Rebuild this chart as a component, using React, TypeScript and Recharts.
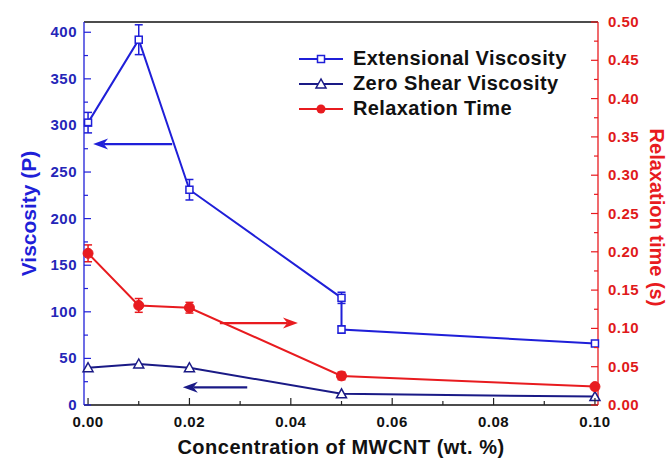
import { ComposedChart, Line, XAxis, YAxis, ErrorBar, ReferenceLine, Legend } from 'recharts';

// extensional viscosity has two readings at 0.05 wt.%
const extConc = [0, 0.01, 0.02, 0.05, 0.05, 0.1];
const extViscosity = [303, 392, 231, 115, 81, 66];
const extError = [11, 16, 11, 6, 4, 3];

const conc = [0, 0.01, 0.02, 0.05, 0.1];
const zeroShear = [40, 44, 40, 12, 9];
const relaxTime = [0.198, 0.13, 0.127, 0.038, 0.024];
const relaxError = [0.011, 0.009, 0.007, 0.005, 0.003];

const xTicks = [0, 0.01, 0.02, 0.03, 0.04, 0.05, 0.06, 0.07, 0.08, 0.09, 0.1];
const leftTicks = [0, 25, 50, 75, 100, 125, 150, 175, 200, 225, 250, 275, 300, 325, 350, 375, 400];
const rightTicks = [
  0, 0.025, 0.05, 0.075, 0.1, 0.125, 0.15, 0.175, 0.2, 0.225, 0.25, 0.275, 0.3, 0.325, 0.35, 0.375, 0.4,
  0.425, 0.45, 0.475, 0.5,
];

// arrows pointing each curve to its axis
const blueArrow = [{ x: 0.0166, y: 280 }, { x: 0.001, y: 280 }];
const navyArrow = [{ x: 0.0314, y: 19 }, { x: 0.0187, y: 19 }];
const redArrow = [{ x: 0.026, y: 0.107 }, { x: 0.0414, y: 0.107 }];

const BLUE = '#1f1fd8';
const NAVY = '#1a1a86';
const RED = '#e81b1f';
const FONT = '"Liberation Sans", Arial, sans-serif';

const extData = extConc.map((x, i) => ({ x, y: extViscosity[i], err: extError[i] }));
const zeroData = conc.map((x, i) => ({ x, y: zeroShear[i] }));
const relaxData = conc.map((x, i) => ({ x, y: relaxTime[i], err: relaxError[i] }));

const XTick = (props: any) => {
  const { x, y, payload } = props;
  const major = Math.round(payload.value * 100) % 2 === 0;
  return (
    <g>
      <line x1={x} x2={x} y1={y} y2={y - (major ? 7 : 4)} stroke="#222" strokeWidth={1.2} />
      {major && (
        <text x={x} y={y + 22} textAnchor="middle" fontFamily={FONT} fontWeight="bold" fontSize={15} letterSpacing={0.5} fill="#111">
          {payload.value.toFixed(2)}
        </text>
      )}
    </g>
  );
};

const LeftTick = (props: any) => {
  const { x, y, payload } = props;
  const major = payload.value % 50 === 0;
  return (
    <g>
      <line x1={x} x2={x + (major ? 7 : 4)} y1={y} y2={y} stroke={BLUE} strokeWidth={1.2} />
      {major && (
        <text x={x - 7} y={y + 5} textAnchor="end" fontFamily={FONT} fontWeight="bold" fontSize={15} letterSpacing={0.5} fill="#2626b8">
          {payload.value}
        </text>
      )}
    </g>
  );
};

const RightTick = (props: any) => {
  const { x, y, payload } = props;
  const major = Math.round(payload.value * 1000) % 50 === 0;
  return (
    <g>
      <line x1={x} x2={x - (major ? 7 : 4)} y1={y} y2={y} stroke={RED} strokeWidth={1.2} />
      {major && (
        <text x={x + 10} y={y + 5} textAnchor="start" fontFamily={FONT} fontWeight="bold" fontSize={15} letterSpacing={0.5} fill="#e01a1a">
          {payload.value.toFixed(2)}
        </text>
      )}
    </g>
  );
};

const squareDot = (p: any) => (
  <rect key={'s' + p.index} x={p.cx - 3.5} y={p.cy - 3.5} width={7} height={7} fill="#fff" stroke={BLUE} strokeWidth={1.5} />
);

const triangleDot = (p: any) => (
  <polygon
    key={'t' + p.index}
    points={`${p.cx},${p.cy - 5} ${p.cx - 5},${p.cy + 4} ${p.cx + 5},${p.cy + 4}`}
    fill="#fff"
    stroke={NAVY}
    strokeWidth={1.5}
  />
);

const circleDot = (p: any) => <circle key={'c' + p.index} cx={p.cx} cy={p.cy} r={5} fill={RED} stroke={RED} />;

const arrow = (color: string) => (props: any) => {
  const { x1, y1, x2, y2 } = props;
  const a = Math.atan2(y2 - y1, x2 - x1);
  const c = Math.cos(a);
  const s = Math.sin(a);
  const L = 15;
  const W = 5.5;
  const bx = x2 - L * c;
  const by = y2 - L * s;
  const nx = x2 - L * 0.7 * c;
  const ny = y2 - L * 0.7 * s;
  return (
    <g>
      <line x1={x1} y1={y1} x2={nx} y2={ny} stroke={color} strokeWidth={2.2} />
      <polygon
        points={`${x2},${y2} ${bx - W * s},${by + W * c} ${nx},${ny} ${bx + W * s},${by - W * c}`}
        fill={color}
      />
    </g>
  );
};

const legendItems = [
  { name: 'Extensional Viscosity', color: BLUE, marker: 'square' },
  { name: 'Zero Shear Viscosity', color: NAVY, marker: 'triangle' },
  { name: 'Relaxation Time', color: RED, marker: 'circle' },
];

const LegendBox = () => (
  <div style={{ fontFamily: FONT }}>
    {legendItems.map((it) => (
      <div key={it.name} style={{ display: 'flex', alignItems: 'center', height: 25 }}>
        <svg width={50} height={14}>
          <line x1={0} x2={44} y1={7} y2={7} stroke={it.color} strokeWidth={2} />
          {it.marker === 'square' && <rect x={18.5} y={3.5} width={7} height={7} fill="#fff" stroke={it.color} strokeWidth={1.5} />}
          {it.marker === 'triangle' && <polygon points="22,2 17,11 27,11" fill="#fff" stroke={it.color} strokeWidth={1.5} />}
          {it.marker === 'circle' && <circle cx={22} cy={7} r={4.5} fill={it.color} />}
        </svg>
        <span style={{ fontWeight: 'bold', fontSize: 20, letterSpacing: 0.4, color: '#111', marginLeft: 4, lineHeight: '25px' }}>
          {it.name}
        </span>
      </div>
    ))}
  </div>
);

export default function App() {
  return (
    <div style={{ position: 'absolute', left: 0, top: 0, background: '#fff' }}>
      <ComposedChart width={668} height={462} margin={{ top: 22, right: 0, bottom: 27, left: 0 }}>
        <XAxis
          type="number"
          dataKey="x"
          height={30}
          domain={[-0.0008, 0.1006]}
          ticks={xTicks}
          tick={<XTick />}
          tickSize={0}
          tickMargin={0}
          tickLine={false}
          interval={0}
          axisLine={{ stroke: '#111', strokeWidth: 1.3 }}
          label={{
            content: (p: any) => (
              <text
                x={p.viewBox.x + p.viewBox.width / 2}
                y={447}
                textAnchor="middle"
                dominantBaseline="central"
                fontFamily={FONT}
                fontWeight="bold"
                fontSize={20}
                letterSpacing={0.5}
                fill="#111"
              >
                Concentration of MWCNT (wt. %)
              </text>
            ),
          }}
        />
        <YAxis
          yAxisId="left"
          width={84}
          domain={[0, 411]}
          ticks={leftTicks}
          tick={<LeftTick />}
          tickSize={0}
          tickMargin={0}
          tickLine={false}
          interval={0}
          axisLine={{ stroke: BLUE, strokeWidth: 1.3 }}
          label={{
            content: (p: any) => (
              <text
                x={28}
                y={p.viewBox.y + p.viewBox.height / 2}
                transform={`rotate(-90, 28, ${p.viewBox.y + p.viewBox.height / 2})`}
                textAnchor="middle"
                dominantBaseline="central"
                fontFamily={FONT}
                fontWeight="bold"
                fontSize={21}
                fill={BLUE}
              >
                Viscosity (P)
              </text>
            ),
          }}
        />
        <YAxis
          yAxisId="right"
          orientation="right"
          width={70}
          domain={[0, 0.5]}
          ticks={rightTicks}
          tick={<RightTick />}
          tickSize={0}
          tickMargin={0}
          tickLine={false}
          interval={0}
          axisLine={{ stroke: RED, strokeWidth: 1.3 }}
          label={{
            content: (p: any) => (
              <text
                x={657}
                y={p.viewBox.y + p.viewBox.height / 2 + 4}
                transform={`rotate(90, 657, ${p.viewBox.y + p.viewBox.height / 2 + 4})`}
                textAnchor="middle"
                dominantBaseline="central"
                fontFamily={FONT}
                fontWeight="bold"
                fontSize={20}
                fill={RED}
              >
                Relaxation time (s)
              </text>
            ),
          }}
        />
        <ReferenceLine yAxisId="left" y={411} stroke="#111" strokeWidth={1.3} />

        <ReferenceLine yAxisId="left" segment={blueArrow} shape={arrow(BLUE)} />
        <ReferenceLine yAxisId="left" segment={navyArrow} shape={arrow(NAVY)} />
        <ReferenceLine yAxisId="right" segment={redArrow} shape={arrow(RED)} />

        <Line
          yAxisId="left"
          data={extData}
          dataKey="y"
          type="linear"
          stroke={BLUE}
          strokeWidth={2}
          dot={squareDot}
          isAnimationActive={false}
        >
          <ErrorBar dataKey="err" direction="y" width={4} stroke={BLUE} strokeWidth={1.5} />
        </Line>
        <Line
          yAxisId="left"
          data={zeroData}
          dataKey="y"
          type="linear"
          stroke={NAVY}
          strokeWidth={2}
          dot={triangleDot}
          isAnimationActive={false}
        />
        <Line
          yAxisId="right"
          data={relaxData}
          dataKey="y"
          type="linear"
          stroke={RED}
          strokeWidth={2}
          dot={circleDot}
          isAnimationActive={false}
        >
          <ErrorBar dataKey="err" direction="y" width={4} stroke={RED} strokeWidth={1.5} />
        </Line>

        <Legend
          layout="vertical"
          align="center"
          verticalAlign="middle"
          content={<LegendBox />}
          wrapperStyle={{ left: 299, top: 46, width: 320, height: 80 }}
        />
      </ComposedChart>
    </div>
  );
}
